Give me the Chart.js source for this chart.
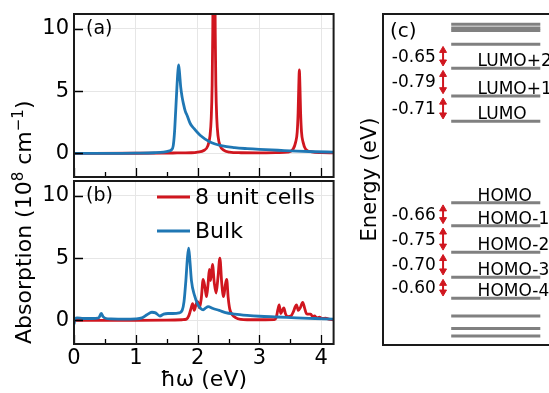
<!DOCTYPE html>
<html><head><meta charset="utf-8">
<script src="https://cdn.jsdelivr.net/npm/chart.js@4/dist/chart.umd.min.js"></script>
<style>
html,body{margin:0;padding:0;background:#fff;}
#wrap{position:relative;width:549px;height:393px;overflow:hidden;background:#fff;font-family:"DejaVu Sans",sans-serif;}
#wrap canvas{position:absolute;}
#ylab{position:absolute;left:13px;top:344px;transform-origin:0 0;transform:rotate(-90deg);white-space:nowrap;font-size:22px;line-height:22px;color:#000;}
#ylab sup{font-size:15px;line-height:0;}
</style></head>
<body>
<div id="wrap">
  <canvas id="ca" width="345" height="179" style="left:0;top:0"></canvas>
  <canvas id="cb" width="345" height="214" style="left:0;top:179px"></canvas>
  <canvas id="cc" width="260" height="393" style="left:350px;top:0"></canvas>
  <div id="ylab">Absorption (10<sup>8</sup> cm<sup>−1</sup>)</div>
</div>
<script>
// ---------- data ----------
const xTicks = [0, 1, 2, 3, 4];
const xMinorTicks = [0.5, 1.5, 2.5, 3.5];
const yTicks = [0, 5, 10];

// panel (a)
const aCellsX = [0, 1.0, 1.6, 1.9, 2.0, 2.1, 2.165, 2.2, 2.22, 2.235, 2.245, 2.255, 2.265, 2.275, 2.285, 2.295, 2.31, 2.33, 2.365, 2.415, 2.515, 2.7, 3.0, 3.3, 3.45, 3.546, 3.586, 3.611, 3.626, 3.636, 3.646, 3.656, 3.666, 3.681, 3.706, 3.746, 3.85, 4.0, 4.2];
const aCellsY = [0, 0.01, 0.03, 0.05, 0.1, 0.23, 0.6, 1.4, 2.8, 5.5, 9.8, 18, 25, 18, 9.8, 5.5, 2.8, 1.4, 0.6, 0.28, 0.1, 0.05, 0.04, 0.06, 0.1, 0.35, 0.9, 1.7, 3.3, 5.3, 6.7, 5.3, 3.3, 1.7, 0.9, 0.35, 0.12, 0.06, 0.04];
const aBulkX = [0, 0.6, 1.0, 1.3, 1.45, 1.53, 1.58, 1.605, 1.625, 1.645, 1.665, 1.68, 1.692, 1.705, 1.727, 1.75, 1.77, 1.8, 1.83, 1.88, 1.94, 2.04, 2.2, 2.4, 2.6, 2.8, 3.0, 3.3, 3.6, 3.9, 4.2];
const aBulkY = [0, 0.0, 0.02, 0.05, 0.1, 0.18, 0.3, 0.6, 1.6, 3.4, 5.3, 6.5, 7.1, 6.6, 5.3, 4.5, 4.0, 3.4, 3.05, 2.4, 2.0, 1.45, 0.92, 0.6, 0.46, 0.38, 0.32, 0.25, 0.18, 0.13, 0.1];

// panel (b)
const bCellsX = [0, 0.5, 1.0, 1.5, 1.75, 1.82, 1.86, 1.89, 1.92, 1.945, 1.97, 2.0, 2.03, 2.06, 2.09, 2.12, 2.145, 2.17, 2.19, 2.21, 2.24, 2.27, 2.3, 2.33, 2.36, 2.39, 2.42, 2.45, 2.47, 2.495, 2.52, 2.56, 2.62, 2.7, 2.8, 3.1, 3.24, 3.27, 3.3, 3.32, 3.345, 3.37, 3.395, 3.42, 3.46, 3.51, 3.55, 3.58, 3.6, 3.63, 3.66, 3.7, 3.73, 3.76, 3.8, 3.83, 3.86, 3.89, 3.93, 3.97, 4.02, 4.07, 4.12, 4.2];
const bCellsY = [0, 0, 0, 0.02, 0.05, 0.1, 0.4, 0.9, 1.35, 0.8, 1.2, 1.5, 1.0, 1.8, 3.3, 2.6, 1.9, 3.0, 4.1, 3.2, 4.5, 3.0, 2.2, 3.5, 5.0, 3.0, 1.9, 2.9, 3.3, 1.8, 0.9, 0.45, 0.2, 0.08, 0.05, 0.05, 0.06, 0.2, 0.9, 1.25, 0.55, 0.8, 1.0, 0.55, 0.3, 0.35, 0.7, 1.1, 1.25, 0.8, 1.0, 1.45, 1.0, 0.55, 0.5, 0.5, 0.3, 0.35, 0.2, 0.25, 0.15, 0.18, 0.1, 0.05];
const bBulkX = [0, 0.02, 0.05, 0.15, 0.3, 0.4, 0.44, 0.47, 0.52, 0.6, 0.8, 1.0, 1.1, 1.18, 1.26, 1.32, 1.39, 1.45, 1.52, 1.6, 1.7, 1.75, 1.78, 1.81, 1.835, 1.855, 1.875, 1.9, 1.95, 2.0, 2.05, 2.09, 2.13, 2.17, 2.25, 2.35, 2.45, 2.6, 2.8, 3.0, 3.3, 3.6, 3.9, 4.2];
const bBulkY = [-0.3, 0.15, 0.2, 0.15, 0.15, 0.2, 0.55, 0.3, 0.15, 0.12, 0.1, 0.12, 0.2, 0.45, 0.65, 0.6, 0.35, 0.5, 0.55, 0.55, 0.6, 0.8, 1.5, 3.2, 5.0, 5.8, 4.8, 3.2, 2.0, 1.3, 0.95, 0.85, 1.0, 1.1, 0.95, 0.8, 0.62, 0.5, 0.4, 0.33, 0.27, 0.2, 0.15, 0.1];

// panel (c): energy levels (eV, relative)
const levelEnergies = [3.75, 3.66, 3.60, 3.27, 2.69, 2.02, 1.41, -0.56, -1.12, -1.76, -2.36, -2.87, -3.30, -3.60, -3.78];
const levelLabels = ['', '', '', '', 'LUMO+2', 'LUMO+1', 'LUMO', 'HOMO', 'HOMO-1', 'HOMO-2', 'HOMO-3', 'HOMO-4', '', '', ''];
const gapUpper = [3, 4, 5, 7, 8, 9, 10];
const gapLabels = ['-0.65', '-0.79', '-0.71', '-0.66', '-0.75', '-0.70', '-0.60'];

// ---------- style ----------
const FONT = '"DejaVu Sans", sans-serif';
const RED = '#d0161f', BLUE = '#1f77b4', GRAY = '#808080';
const LEVEL_X0 = 0.31, LEVEL_X1 = 0.715, LABEL_X = 0.43, GAP_X = 0.04, ARROW_X = 0.273, ARROW_INSET = 0.15;

const pts = (xs, ys) => xs.map((x, i) => ({x, y: ys[i]}));
const noPad = s => { s.paddingTop = 0; s.paddingBottom = 0; s.paddingLeft = 0; s.paddingRight = 0; };

const frameTicks = {
  id: 'frameTicks',
  afterDatasetsDraw(chart, args, o) {
    if (!o || !o.enabled) return;
    const {ctx, chartArea: a, scales} = chart;
    ctx.save();
    if (o.ticks) {
      const xs = scales.x, ys = scales.y;
      ctx.strokeStyle = '#000'; ctx.lineWidth = 1.3;
      ctx.beginPath();
      xTicks.forEach(v => { const p = Math.round(xs.getPixelForValue(v)) + 0.5; ctx.moveTo(p, a.bottom); ctx.lineTo(p, a.bottom - 9); });
      xMinorTicks.forEach(v => { const p = Math.round(xs.getPixelForValue(v)) + 0.5; ctx.moveTo(p, a.bottom); ctx.lineTo(p, a.bottom - 5); });
      yTicks.forEach(v => { const p = Math.round(ys.getPixelForValue(v)) + 0.5; ctx.moveTo(a.left, p); ctx.lineTo(a.left + 9, p); });
      ctx.stroke();
    }
    ctx.strokeStyle = '#1a1a1a'; ctx.lineWidth = 2;
    ctx.strokeRect(a.left, a.top, a.right - a.left, a.bottom - a.top);
    if (o.label) {
      ctx.fillStyle = '#000'; ctx.font = o.size + 'px ' + FONT;
      ctx.textBaseline = 'middle'; ctx.textAlign = 'left';
      ctx.fillText(o.label, a.left + o.lx, a.top + o.ly);
    }
    ctx.restore();
  }
};

const inlineLegend = {
  id: 'inlineLegend',
  afterDatasetsDraw(chart, args, o) {
    if (!o || !o.enabled) return;
    const {ctx, chartArea: a} = chart;
    ctx.save();
    ctx.font = o.size + 'px ' + FONT; ctx.textBaseline = 'middle'; ctx.textAlign = 'left';
    chart.data.datasets.forEach((ds, i) => {
      const y = a.top + o.y + i * o.gap, x = a.left + o.x;
      ctx.strokeStyle = ds.borderColor; ctx.lineWidth = ds.borderWidth;
      ctx.beginPath(); ctx.moveTo(x, y); ctx.lineTo(x + o.len, y); ctx.stroke();
      ctx.fillStyle = '#000'; ctx.fillText(ds.label, x + o.len + o.tg, y + 1);
    });
    ctx.restore();
  }
};

const levelText = {
  id: 'levelText',
  afterDatasetsDraw(chart, args, o) {
    if (!o || !o.enabled) return;
    const {ctx, scales: {x, y}} = chart;
    ctx.save(); ctx.fillStyle = '#000';
    ctx.font = '17px ' + FONT; ctx.textAlign = 'left'; ctx.textBaseline = 'alphabetic';
    levelLabels.forEach((t, i) => { if (t) ctx.fillText(t, x.getPixelForValue(LABEL_X), y.getPixelForValue(levelEnergies[i]) - 2); });
    ctx.textBaseline = 'middle';
    gapLabels.forEach((t, i) => {
      const u = gapUpper[i];
      const ym = (y.getPixelForValue(levelEnergies[u]) + y.getPixelForValue(levelEnergies[u + 1])) / 2;
      ctx.fillText(t, x.getPixelForValue(GAP_X), ym + 1);
    });
    ctx.restore();
  }
};

Chart.register(frameTicks, inlineLegend, levelText);

function spectrumChart(id, cells, bulk, opt) {
  return new Chart(document.getElementById(id), {
    type: 'line',
    data: {datasets: [
      {label: '8 unit cells', data: cells, borderColor: RED, borderWidth: 2.8, pointRadius: 0, cubicInterpolationMode: 'monotone', order: 1},
      {label: 'Bulk', data: bulk, borderColor: BLUE, borderWidth: 2.8, pointRadius: 0, cubicInterpolationMode: 'monotone', order: 0}
    ]},
    options: {
      responsive: false, animation: false, events: [],
      layout: {padding: {top: opt.padTop, right: 11.4, left: 0, bottom: 0}},
      scales: {
        x: {type: 'linear', min: 0, max: 4.2,
            afterBuildTicks: s => { s.ticks = xTicks.map(v => ({value: v})); },
            ticks: {display: opt.showX, color: '#000', font: {family: FONT, size: 21}, padding: 2, maxRotation: 0, autoSkip: false},
            grid: {color: '#e6e6e6', lineWidth: 1, drawTicks: false},
            border: {display: false},
            title: {display: opt.showX, text: 'ħω (eV)', color: '#000', font: {family: FONT, size: 22}, padding: {top: 0, bottom: 0}},
            afterFit: s => { s.height = opt.xh; noPad(s); }},
        y: {type: 'linear', min: -1.9, max: 11.2,
            afterBuildTicks: s => { s.ticks = yTicks.map(v => ({value: v})); },
            ticks: {color: '#000', font: {family: FONT, size: 21}, padding: 5},
            grid: {color: '#e6e6e6', lineWidth: 1, drawTicks: false},
            border: {display: false},
            afterFit: s => { s.width = 74; noPad(s); }}
      },
      plugins: {
        legend: {display: false}, tooltip: {enabled: false},
        frameTicks: {enabled: true, ticks: true, label: opt.label, size: 19, lx: 12, ly: 15},
        inlineLegend: opt.legend ? {enabled: true, x: 83, y: 16, gap: 34, len: 33, tg: 5, size: 22} : {enabled: false},
        levelText: {enabled: false}
      }
    }
  });
}

spectrumChart('ca', pts(aCellsX, aCellsY), pts(aBulkX, aBulkY), {padTop: 14, xh: 2, showX: false, label: '(a)', legend: false});
spectrumChart('cb', pts(bCellsX, bCellsY), pts(bBulkX, bBulkY), {padTop: 2, xh: 49, showX: true, label: '(b)', legend: true});

// panel (c)
const levelSets = levelEnergies.map(e => ({
  data: [{x: LEVEL_X0, y: e}, {x: LEVEL_X1, y: e}],
  borderColor: GRAY, borderWidth: 3, pointRadius: 0
}));
const arrowSets = gapUpper.map(u => ({
  data: [{x: ARROW_X, y: levelEnergies[u] - ARROW_INSET}, {x: ARROW_X, y: levelEnergies[u + 1] + ARROW_INSET}],
  borderColor: RED, borderWidth: 2, pointStyle: 'triangle', pointRadius: 4,
  pointRotation: c => (c.dataIndex === 0 ? 0 : 180),
  pointBackgroundColor: RED, pointBorderColor: RED, pointBorderWidth: 1
}));
new Chart(document.getElementById('cc'), {
  type: 'line',
  data: {datasets: [...arrowSets, ...levelSets]},
  options: {
    responsive: false, animation: false, events: [],
    layout: {padding: {top: 14, right: 7, left: 0, bottom: 48}},
    scales: {
      x: {type: 'linear', min: 0, max: 1, display: false},
      y: {type: 'linear', min: -4, max: 4,
          ticks: {display: false}, grid: {display: false}, border: {display: false},
          title: {display: true, text: 'Energy (eV)', color: '#000', font: {family: FONT, size: 21}, padding: {top: 8, bottom: 0}},
          afterFit: s => { s.width = 33; noPad(s); }}
    },
    plugins: {
      legend: {display: false}, tooltip: {enabled: false},
      frameTicks: {enabled: true, ticks: false, label: '(c)', size: 20, lx: 7, ly: 18},
      inlineLegend: {enabled: false},
      levelText: {enabled: true}
    }
  }
});
</script>
</body></html>
